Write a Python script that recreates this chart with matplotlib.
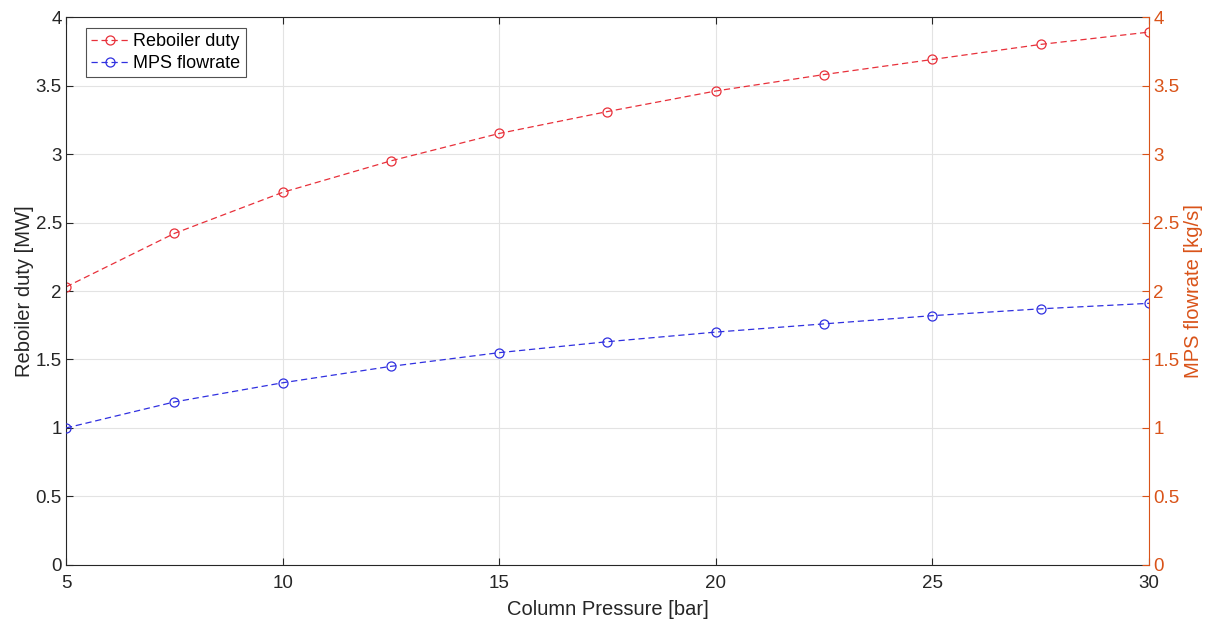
import matplotlib
matplotlib.use("Agg")
import matplotlib.pyplot as plt

plt.rcParams['font.family'] = ['Liberation Sans', 'DejaVu Sans']

pressure = [5, 7.5, 10, 12.5, 15, 17.5, 20, 22.5, 25, 27.5, 30]
reboiler_duty = [2.03, 2.42, 2.72, 2.95, 3.15, 3.31, 3.46, 3.58, 3.69, 3.80, 3.89]
mps_flowrate = [1.00, 1.19, 1.33, 1.45, 1.55, 1.63, 1.70, 1.76, 1.82, 1.87, 1.91]
x_ticks = [5, 10, 15, 20, 25, 30]
y_ticks = [0, 0.5, 1, 1.5, 2, 2.5, 3, 3.5, 4]
y_ticklabels = ['0', '0.5', '1', '1.5', '2', '2.5', '3', '3.5', '4']

axis_dark = '#262626'
right_col = '#D95319'

fig = plt.figure(figsize=(12.11, 6.21), dpi=100)
ax = fig.add_axes([0.0545, 0.0902, 0.8943, 0.8824])
ax2 = ax.twinx()

l1, = ax.plot(pressure, reboiler_duty, linestyle='--', marker='o', color='#e8303a',
              markerfacecolor='none', markersize=6.5, linewidth=0.9, markeredgewidth=0.9,
              label='Reboiler duty', dashes=(5, 3))
l2, = ax2.plot(pressure, mps_flowrate, linestyle='--', marker='o', color='#3030e0',
               markerfacecolor='none', markersize=6.5, linewidth=0.9, markeredgewidth=0.9,
               label='MPS flowrate', dashes=(5, 3))

for a in (ax, ax2):
    a.set_xlim(5, 30)
    a.set_ylim(0, 4)
    a.set_yticks(y_ticks)
    a.set_yticklabels(y_ticklabels)

ax.set_xticks(x_ticks)
ax.grid(True, color='#e3e3e3', linewidth=0.8)
ax.set_axisbelow(True)

ax.tick_params(axis='both', direction='in', length=5, colors=axis_dark, labelsize=13.5,
               top=True, width=0.8)
ax.tick_params(axis='x', pad=7)
ax.tick_params(axis='y', pad=3)
ax2.tick_params(axis='y', direction='in', length=5, colors=right_col, labelsize=13.5,
                width=0.8, pad=3)

for s in ['left', 'bottom', 'top']:
    ax.spines[s].set_color(axis_dark)
    ax.spines[s].set_linewidth(0.8)
ax.spines['right'].set_visible(False)
ax2.spines['right'].set_color(right_col)
ax2.spines['right'].set_linewidth(0.8)
for s in ['left', 'bottom', 'top']:
    ax2.spines[s].set_visible(False)

ax.set_xlabel('Column Pressure [bar]', fontsize=14.5, color=axis_dark, labelpad=6)
ax.set_ylabel('Reboiler duty [MW]', fontsize=14.5, color=axis_dark, labelpad=1)
ax2.set_ylabel('MPS flowrate [kg/s]', fontsize=14.5, color=right_col, labelpad=3)

leg = ax2.legend(handles=[l1, l2], loc='upper left', bbox_to_anchor=(0.0185, 0.98),
                 fontsize=13, frameon=True, fancybox=False, handlelength=2.1,
                 borderpad=0.3, labelspacing=0.25, handletextpad=0.2, borderaxespad=0)
leg.get_frame().set_edgecolor(axis_dark)
leg.get_frame().set_linewidth(0.8)

fig.savefig('out.png', dpi=100)
